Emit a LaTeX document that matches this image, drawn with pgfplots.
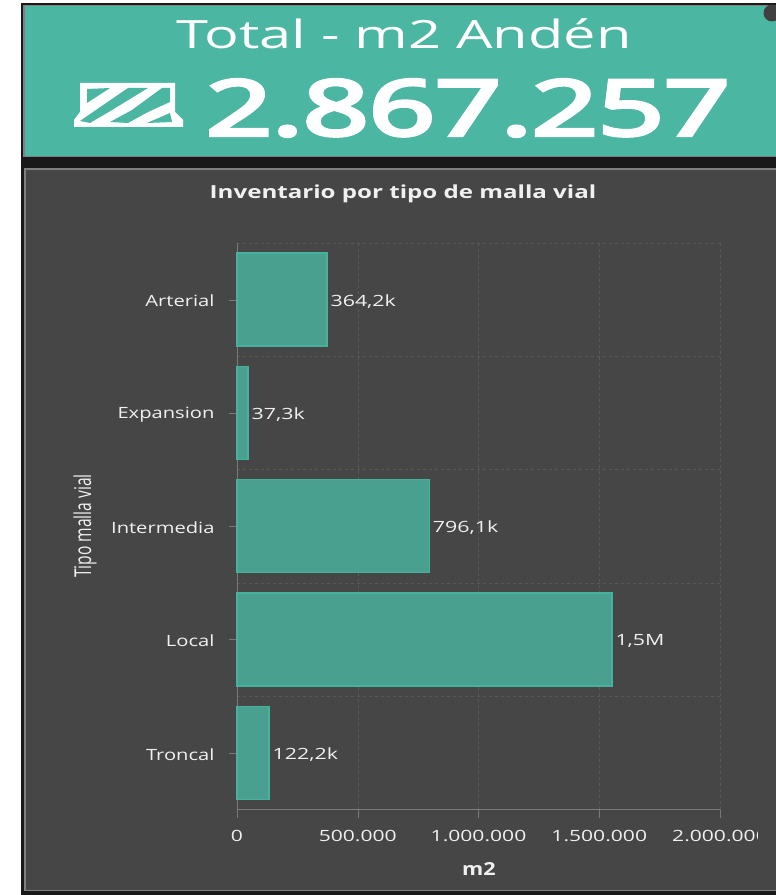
\documentclass[border=0pt]{standalone}
\usepackage{pgfplots}
\pgfplotsset{compat=1.18}
\usepackage{fontspec}
\setmainfont{Open Sans}
\definecolor{teal1}{HTML}{4BB6A2}
\definecolor{panel}{HTML}{464646}
\definecolor{barfill}{HTML}{49A08E}
\definecolor{barline}{HTML}{45B29E}
\definecolor{gridc}{HTML}{595959}
\definecolor{axisc}{HTML}{7A7A7A}
\definecolor{txt}{HTML}{F0F0F0}
\newcommand{\tkx}[1]{\scalebox{1.36}[1]{#1}}
\newcommand{\tky}[1]{\scalebox{1.30}[1]{#1}}
\newcommand{\tkv}[1]{\scalebox{1.38}[1]{#1}}
\begin{document}
\begin{tikzpicture}[x=1pt,y=1pt]
\path[use as bounding box] (0,0) rectangle (776,895);
\fill[white] (0,0) rectangle (776,895);
\fill[black!90] (21,0) rectangle (776,895);
\fill[white] (21,892) rectangle (776,895);
\fill[gray] (23,738) rectangle (776,890);
% header
\fill[teal1] (25,738.5) rectangle (776,889);
\draw[gray,line width=1pt] (25,738) -- (776,738);
\node[white,font=\fontsize{39}{39}\selectfont] at (404,861) {\scalebox{1.48}[1]{Total - m2 Andén}};
\node[white,font=\fontsize{77}{77}\selectfont] at (468,787) {\scalebox{1.50}[1]{\fontspec[FakeBold=4.5]{Open Sans}2.867.257}};
% icon
\fill[white] (80,812) -- (175,812) -- (175,783) -- (183,775) -- (183,768) -- (74,768) -- (74,775) -- (80,783) -- cycle;
\fill[teal1] (87,806) -- (110,807) -- (87,792) -- cycle;
\fill[teal1] (128,807) -- (148,807) -- (112,785) -- (90,772) -- (80,774) -- (93,783) -- cycle;
\fill[teal1] (162,807) -- (170,807) -- (170,793) -- (148,783) -- (128,772) -- (110,773) -- (132,785) -- cycle;
\fill[teal1] (170,782) -- (172,773) -- (147,772) -- cycle;
% panel
\fill[panel] (25,4.5) rectangle (776,726);
\draw[gray,line width=1.2pt] (25,4.5) rectangle (777,726);
\node[txt,font=\fontsize{18}{18}\selectfont\bfseries] at (403,701.5) {\scalebox{1.34}[1]{Inventario por tipo de malla vial}};
\begin{axis}[
  at={(237pt,85.5pt)}, anchor=south west,
  scale only axis, width=483pt, height=566.5pt,
  xmin=0, xmax=2000000, ymin=-0.5, ymax=4.5, y dir=reverse,
  xbar, bar width=93pt,
  axis line style={axisc},
  axis x line*=bottom, axis y line*=left,
  scaled x ticks=false,
  xtick={0,500000,1000000,1500000,2000000},
  xticklabels={\tkx{0},\tkx{500.000},\tkx{1.000.000},\tkx{1.500.000},\tkx{2.000.000}},
  ytick={0,1,2,3,4},
  yticklabels={\tky{Arterial},\tky{Expansion},\tky{Intermedia},\tky{Local},\tky{Troncal}},
  minor ytick={-0.5,0.5,1.5,2.5,3.5},
  tick align=outside,
  major tick length=8pt, minor tick length=0pt,
  tick style={axisc},
  minor tick style={draw=none},
  xmajorgrids, yminorgrids,
  grid style={gridc,dashed,line width=0.5pt},
  minor grid style={gridc,dashed,line width=0.5pt},
  ymajorgrids=false,
  xticklabel style={txt,font=\fontsize{15.5}{15.5}\selectfont,yshift=-9pt},
  yticklabel style={txt,font=\fontsize{15.5}{15.5}\selectfont,xshift=-11pt,yshift=-1.5pt},
  clip=false,
  point meta=explicit symbolic,
  nodes near coords={\tkv{\pgfplotspointmeta}},
  every node near coord/.append style={txt,font=\fontsize{15.5}{15.5}\selectfont,anchor=west,inner xsep=3pt,yshift=-1.5pt},
]
\addplot[draw=barline,fill=barfill,line width=1.4pt] table[meta=lab,x=v,y=c] {
c v lab
0 372000 364,2k
1 45000 37,3k
2 796100 796,1k
3 1552000 1,5M
4 132000 122,2k
};
\end{axis}
\node[txt,font=\fontsize{18}{18}\selectfont\bfseries] at (479,26) {\scalebox{1.2}[1]{m2}};
\node[txt,font=\fontsize{15}{15}\selectfont,rotate=90,anchor=base] at (91,369) {\scalebox{1.04}[1.55]{Tipo malla vial}};
% clip overflow of the last label
\fill[panel] (758,40) rectangle (775.4,80);
\fill[black!75] (772,882) circle (8.5pt);
\end{tikzpicture}
\end{document}
